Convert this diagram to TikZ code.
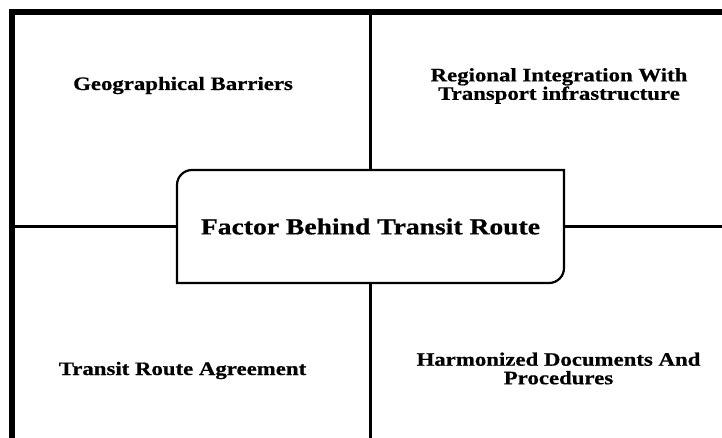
\documentclass[tikz,border=0pt]{standalone}
\usepackage{fontspec}
\setmainfont{Liberation Serif}[FakeStretch=1.2, BoldFont={Liberation Serif Bold}, BoldFeatures={FakeStretch=1.2, FakeBold=0.6}]
\begin{document}
\begin{tikzpicture}[x=1pt,y=1pt,
  quad/.style={font=\fontsize{19}{18.5}\selectfont\bfseries, align=center, inner sep=0pt},
  thin line/.style={line width=2.2pt, black},
  frame line/.style={line width=6pt, line join=miter}]
\useasboundingbox (0,0) rectangle (722,437);
\fill[white] (0,0) rectangle (722,437);
% outer frame (left and top edges visible)
\draw[frame line] (12,-10) -- (12,425) -- (735,425);
% central box
\draw[thin line] (177,154) -- (177,252) arc[start angle=180, end angle=90, radius=15]
  -- (564,267) -- (564,169) arc[start angle=0, end angle=-90, radius=15] -- cycle;
\node[minimum width=387pt, minimum height=113pt, inner sep=0pt, outer sep=0pt,
  font=\fontsize{23}{23}\selectfont\bfseries] (c) at (370.5,210.5) {Factor Behind Transit Route};
% connector end points
\coordinate (ftop) at (370.5,422);
\coordinate (fleft) at (15,210.5);
\coordinate (fright) at (730,210.5);
\coordinate (fbottom) at (370.5,-10);
\draw[thin line] (ftop) -- (c.north);
\draw[thin line] (fleft) -- (c.west);
\draw[thin line] (c.east) -- (fright);
\draw[thin line] (c.south) -- (fbottom);
% quadrant texts
\node[quad, anchor=base] (geo) at (183,347) {Geographical Barriers};
\node[quad] (reg) at (559,351) {Regional Integration With\\Transport infrastructure};
\node[quad, anchor=base] (tra) at (182.5,62) {Transit Route Agreement};
\node[quad] (har) at (558.5,68.5) {Harmonized Documents And\\Procedures};
\end{tikzpicture}
\end{document}
